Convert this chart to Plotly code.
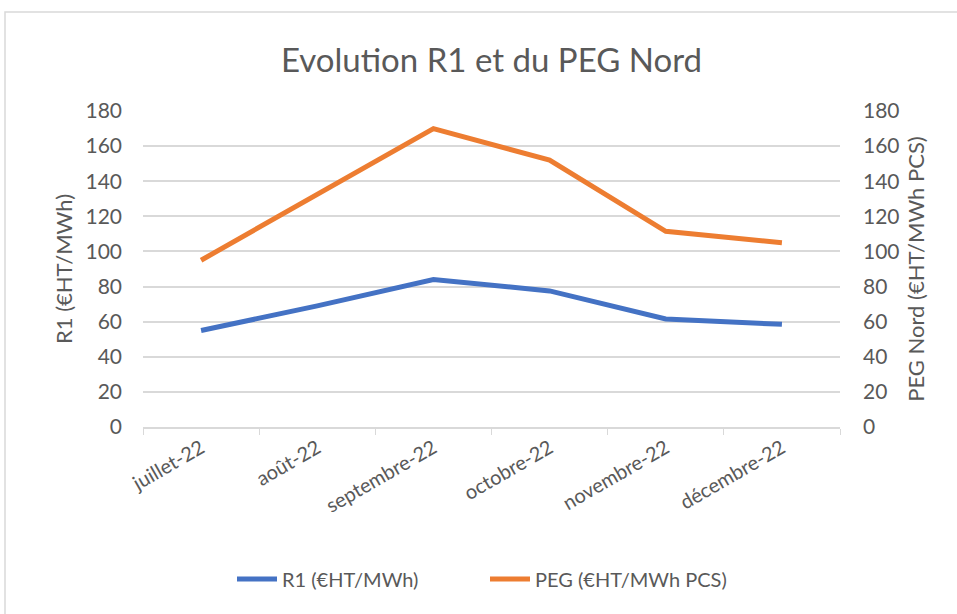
import plotly.graph_objects as go

months = ["juillet-22", "août-22", "septembre-22", "octobre-22", "novembre-22", "décembre-22"]
r1_values = [55, 69, 84, 77.5, 61.5, 58.5]
peg_values = [95, 132.5, 170, 152, 111.5, 105]
y_ticks = [0, 20, 40, 60, 80, 100, 120, 140, 160, 180]

FONT = "Lato, 'Open Sans', sans-serif"
GREY = "#595959"

fig = go.Figure()
fig.add_trace(go.Scatter(x=months, y=r1_values, name="R1 (€HT/MWh)", mode="lines",
                         line=dict(color="#4472C4", width=5), yaxis="y"))
fig.add_trace(go.Scatter(x=months, y=peg_values, name="PEG (€HT/MWh PCS)", mode="lines",
                         line=dict(color="#ED7D31", width=5), yaxis="y2"))

W, H = 957, 614
L, R, T, B = 143, 117, 111, 187
pw, ph = W - L - R, H - T - B

def px(x):
    return (x - L) / pw

def py(y):
    return (H - B - y) / ph

fig.update_layout(
    width=W, height=H,
    margin=dict(l=L, r=R, t=T, b=B),
    paper_bgcolor="white", plot_bgcolor="white",
    font=dict(family=FONT, color=GREY, size=20),
    title=dict(text="Evolution R1 et du PEG Nord", x=0.5, xref="paper", xanchor="center",
               y=1 - 60 / H, yanchor="middle", font=dict(size=33, color=GREY, family=FONT)),
    showlegend=True,
    legend=dict(orientation="h", x=px(232), xanchor="left", xref="paper", y=py(579), yanchor="middle",
                font=dict(size=20, color=GREY), itemwidth=40, traceorder="normal",
                entrywidth=198, entrywidthmode="pixels"),
    xaxis=dict(type="category", range=[-0.5, 5.5], showgrid=False, showline=True, linecolor="#D9D9D9",
               linewidth=1.5, ticks="outside", tickson="boundaries", ticklen=6, tickcolor="#D9D9D9",
               tickangle=-30, tickfont=dict(size=20, color=GREY), zeroline=False),
    yaxis=dict(range=[0, 180], tickvals=y_ticks, showgrid=True, gridcolor="#D9D9D9", gridwidth=1.5,
               zeroline=False, showline=False, ticks="", ticklabelstandoff=20,
               tickfont=dict(size=21, color=GREY),
               title=dict(text="R1 (€HT/MWh)", font=dict(size=22, color=GREY), standoff=6)),
    yaxis2=dict(range=[0, 180], tickvals=y_ticks, overlaying="y", side="right", showgrid=False,
                zeroline=False, showline=False, ticks="", ticklabelstandoff=22,
                tickfont=dict(size=21, color=GREY),
                title=dict(text="PEG Nord (€HT/MWh PCS)", font=dict(size=22, color=GREY), standoff=10)),
)

fig.add_shape(type="rect", xref="paper", yref="paper",
              x0=px(5), x1=px(990), y0=py(650), y1=py(12),
              line=dict(color="#D9D9D9", width=1.5), fillcolor="rgba(0,0,0,0)", layer="below")

fig.write_html("out.html", config={"displayModeBar": False},
               post_script="document.body.style.margin='0';document.body.style.padding='0';")
